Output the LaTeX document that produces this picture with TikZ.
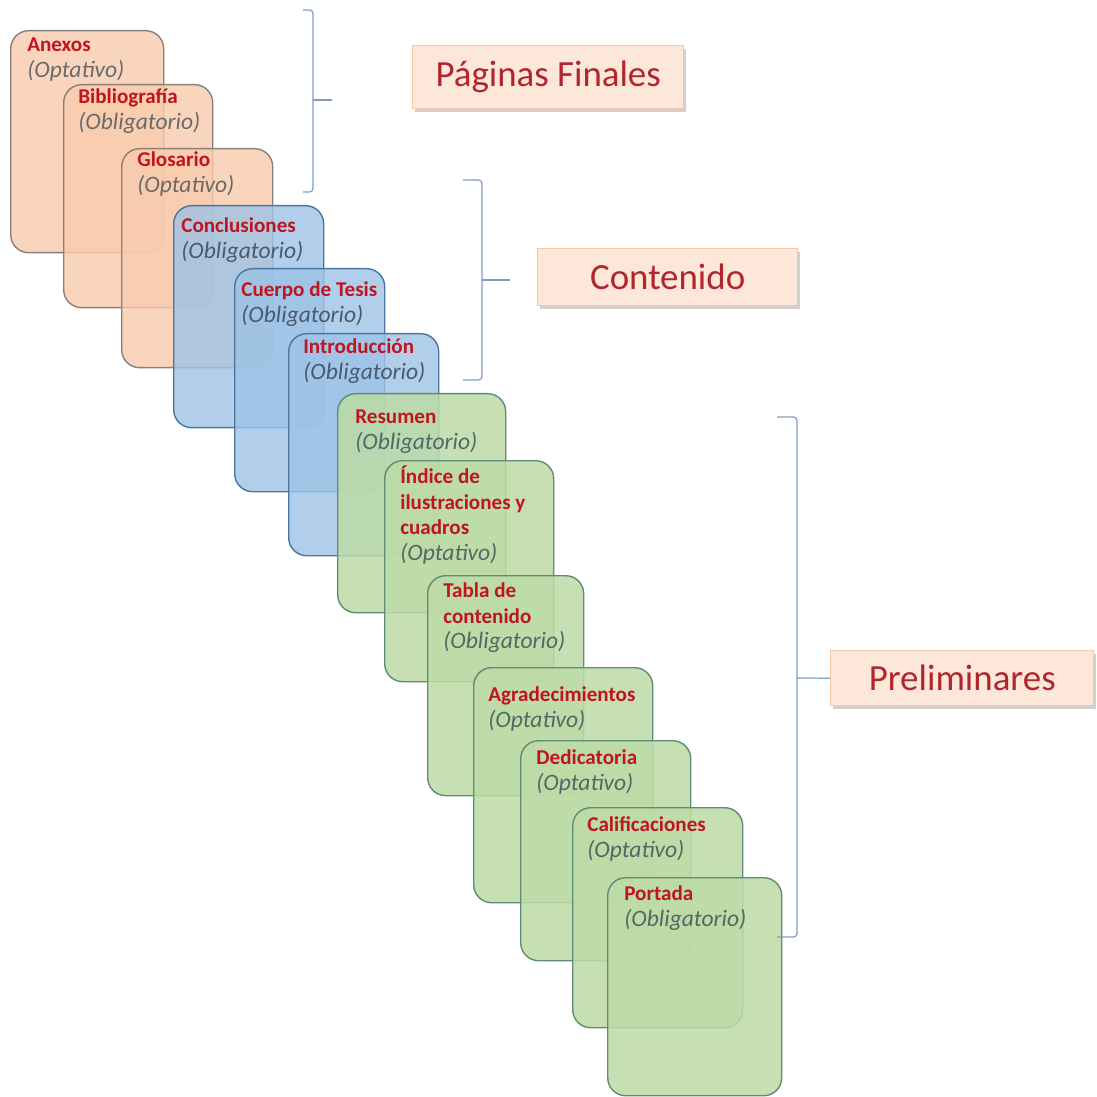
\documentclass[tikz,border=0pt]{standalone}
\usepackage{fontspec}
\setmainfont{Carlito}
\usetikzlibrary{shadows}

\definecolor{finalesfill}{HTML}{F8CBAD}
\definecolor{finalesline}{HTML}{8A7F78}
\definecolor{contfill}{HTML}{9DC3E6}
\definecolor{contline}{HTML}{4A75A0}
\definecolor{prelfill}{HTML}{BCDBA6}
\definecolor{prelline}{HTML}{5F8C74}
\definecolor{titlered}{HTML}{C0141E}
\definecolor{subgray}{HTML}{6A6A6A}
\definecolor{subblue}{HTML}{475A70}
\definecolor{subgreen}{HTML}{4F6A66}
\definecolor{tagfill}{HTML}{FDE7D8}
\definecolor{tagline}{HTML}{F6C9A4}
\definecolor{tagtext}{HTML}{B0262C}
\definecolor{bracketblue}{HTML}{7F9CC2}

\newcommand{\cardtitle}[1]{{\color{titlered}\bfseries #1}}
\newcommand{\cardsub}[1]{{\fontsize{13.4}{14.5}\selectfont\itshape #1}}

\begin{document}
\begin{tikzpicture}[x=0.02cm, y=-0.02cm,
    every node/.style={inner sep=0pt},
    cardsize/.style 2 args={minimum width=#1*0.02cm, minimum height=#2*0.02cm},
    card/.style={draw, line width=0.8pt, rounded corners=0.36cm, anchor=north west},
    finalescard/.style={card, draw=finalesline, fill=finalesfill, fill opacity=0.8},
    contcard/.style={card, draw=contline, fill=contfill, fill opacity=0.8},
    prelcard/.style={card, draw=prelline, fill=prelfill, fill opacity=0.85},
    cardtext/.style={anchor=north west, align=left, font=\fontsize{12}{14.5}\selectfont},
    tag/.style={draw=tagline, fill=tagfill, line width=0.8pt, anchor=north west,
        text=tagtext, font=\fontsize{21}{24}\selectfont,
        drop shadow={shadow xshift=1.5pt, shadow yshift=-2pt, opacity=0.3, fill=black!60}},
    bracket/.style={draw=bracketblue, line width=0.7pt, rounded corners=2pt}]

\useasboundingbox (0,0) rectangle (1096,1097);

% ---------------- Paginas finales ----------------
\node[finalescard, cardsize={153}{222}] (anexos) at (10,30) {};
\node[cardtext, text=subgray] (anexosT) at (27,32)
    {\cardtitle{\rule{0pt}{11pt}Anexos}\\\cardsub{(Optativo)}};
\node[finalescard, cardsize={149}{223}] (biblio) at (63,84) {};
\node[cardtext, text=subgray] (biblioT) at (78,84)
    {\cardtitle{\rule{0pt}{11pt}Bibliografía}\\\cardsub{(Obligatorio)}};
\node[finalescard, cardsize={151}{219}] (glosario) at (121,148) {};
\node[cardtext, text=subgray] (glosarioT) at (137,147)
    {\cardtitle{\rule{0pt}{11pt}Glosario}\\\cardsub{(Optativo)}};

% ---------------- Contenido ----------------
\node[contcard, cardsize={150}{222}] (conclus) at (173,205) {};
\node[cardtext, text=subblue] (conclusT) at (181,213)
    {\cardtitle{\rule{0pt}{11pt}Conclusiones}\\\cardsub{(Obligatorio)}};
\node[contcard, cardsize={150}{223}] (cuerpo) at (234,268) {};
\node[cardtext, text=subblue] (cuerpoT) at (241,277)
    {\cardtitle{\rule{0pt}{11pt}Cuerpo de Tesis}\\\cardsub{(Obligatorio)}};
\node[contcard, cardsize={150}{222}] (intro) at (288,333) {};
\node[cardtext, text=subblue] (introT) at (303,334)
    {\cardtitle{\rule{0pt}{11pt}Introducción}\\\cardsub{(Obligatorio)}};

% ---------------- Preliminares ----------------
\node[prelcard, cardsize={168}{219}] (resumen) at (337,393) {};
\node[cardtext, text=subgreen] (resumenT) at (355,404)
    {\cardtitle{\rule{0pt}{11pt}Resumen}\\\cardsub{(Obligatorio)}};
\node[prelcard, cardsize={169}{221}] (indice) at (384,460) {};
\node[cardtext, text=subgreen] (indiceT) at (400,464)
    {\cardtitle{\rule{0pt}{11pt}Índice de}\\\cardtitle{ilustraciones y}\\\cardtitle{cuadros}\\\cardsub{(Optativo)}};
\node[prelcard, cardsize={156}{220}] (tabla) at (427,575) {};
\node[cardtext, text=subgreen] (tablaT) at (443,578)
    {\cardtitle{\rule{0pt}{11pt}Tabla de}\\\cardtitle{contenido}\\\cardsub{(Obligatorio)}};
\node[prelcard, cardsize={179}{235}] (agrad) at (473,667) {};
\node[cardtext, text=subgreen] (agradT) at (488,682)
    {\cardtitle{\rule{0pt}{11pt}Agradecimientos}\\\cardsub{(Optativo)}};
\node[prelcard, cardsize={170}{220}] (dedic) at (520,740) {};
\node[cardtext, text=subgreen] (dedicT) at (536,745)
    {\cardtitle{\rule{0pt}{11pt}Dedicatoria}\\\cardsub{(Optativo)}};
\node[prelcard, cardsize={170}{220}] (calif) at (572,807) {};
\node[cardtext, text=subgreen] (califT) at (587,812)
    {\cardtitle{\rule{0pt}{11pt}Calificaciones}\\\cardsub{(Optativo)}};
\node[prelcard, cardsize={174}{218}] (portada) at (607,877) {};
\node[cardtext, text=subgreen] (portadaT) at (624,881)
    {\cardtitle{\rule{0pt}{11pt}Portada}\\\cardsub{(Obligatorio)}};

% ---------------- Section tags ----------------
\node[tag, cardsize={271}{63}] (finales) at (412,45) {Páginas Finales};
\node[tag, cardsize={260}{57}] (contenido) at (537,248) {Contenido};
\node[tag, cardsize={263}{55}] (prelim) at (830,650) {Preliminares};

% ---------------- Brackets ----------------
\coordinate (fiTop) at (303,10);  \coordinate (fiBot) at (303,192);
\coordinate (fiMid) at (313,100); \coordinate (fiTip) at (332,100);
\draw[bracket] (fiTop) -| (fiMid) |- (fiBot);
\draw[bracket] (fiMid) -- (fiTip);

\coordinate (coTop) at (463,180); \coordinate (coBot) at (463,380);
\coordinate (coMid) at (482,280); \coordinate (coTip) at (510,280);
\draw[bracket] (coTop) -| (coMid) |- (coBot);
\draw[bracket] (coMid) -- (coTip);

\coordinate (prTop) at (777,417); \coordinate (prBot) at (777,937);
\coordinate (prMid) at (797,678);
\draw[bracket] (prTop) -| (prMid) |- (prBot);
\draw[bracket] (prMid) -- (prelim.west);

\end{tikzpicture}
\end{document}
